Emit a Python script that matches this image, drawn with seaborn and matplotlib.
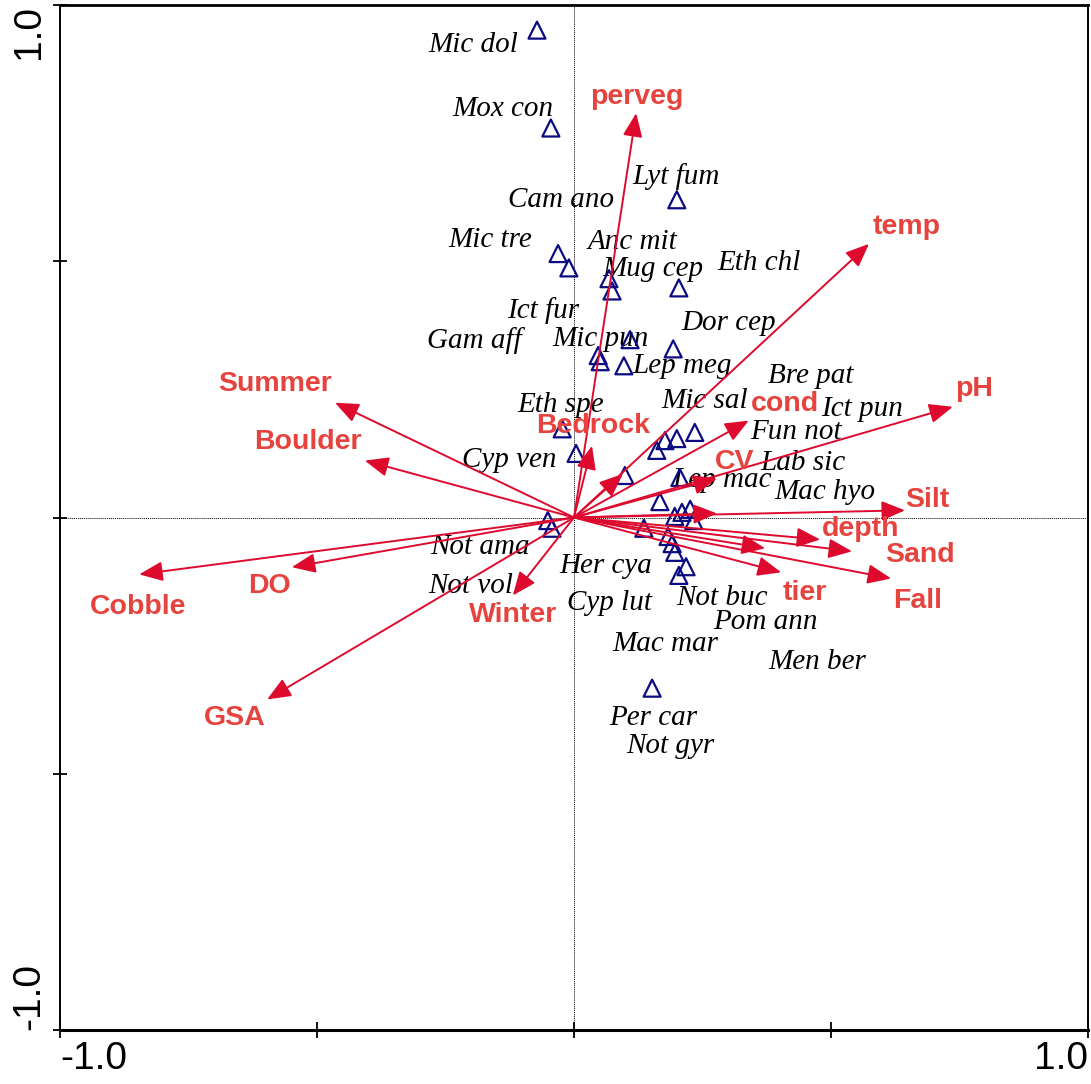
import matplotlib
matplotlib.use("Agg")
import matplotlib.pyplot as plt
import seaborn as sns
import pandas as pd

# ---- species scores (triangles) ----
species_x = [-0.072, -0.045, 0.200, -0.031, -0.010, 0.068, 0.074, 0.204, 0.109, 0.047,
             0.051, 0.097, 0.193, -0.023, 0.004, 0.161, 0.177, 0.200, 0.235, 0.099,
             0.206, 0.167, -0.051, -0.043, 0.136, 0.196, 0.210, 0.226, 0.233, 0.183,
             0.191, 0.196, 0.218, 0.204, 0.152]
species_y = [0.951, 0.760, 0.620, 0.515, 0.487, 0.466, 0.442, 0.448, 0.347, 0.316,
             0.304, 0.296, 0.329, 0.173, 0.125, 0.131, 0.150, 0.154, 0.166, 0.082,
             0.078, 0.031, -0.006, -0.021, -0.021, 0.002, 0.010, 0.016, -0.006, -0.037,
             -0.051, -0.068, -0.096, -0.113, -0.333]

# ---- species labels ----
species_names = ["Mic dol", "Mox con", "Lyt fum", "Cam ano", "Mic tre", "Anc mit", "Mug cep",
                 "Eth chl", "Ict fur", "Dor cep", "Gam aff", "Mic pun", "Lep meg", "Bre pat",
                 "Eth spe", "Mic sal", "Ict pun", "Fun not", "Cyp ven", "Lab sic", "Lep mac",
                 "Mac hyo", "Not ama", "Her cya", "Not vol", "Cyp lut", "Not buc", "Pom ann",
                 "Mac mar", "Men ber", "Per car", "Not gyr"]
species_label_x = [-0.196, -0.138, 0.198, -0.025, -0.163, 0.113, 0.154, 0.360, -0.060, 0.300,
                   -0.193, 0.051, 0.210, 0.461, -0.025, 0.255, 0.560, 0.432, -0.126, 0.446,
                   0.288, 0.488, -0.183, 0.062, -0.200, 0.070, 0.288, 0.372, 0.177, 0.473,
                   0.154, 0.187]
species_label_y = [0.922, 0.797, 0.665, 0.620, 0.542, 0.538, 0.485, 0.497, 0.404, 0.380,
                   0.345, 0.349, 0.296, 0.277, 0.220, 0.228, 0.212, 0.166, 0.113, 0.107,
                   0.074, 0.049, -0.058, -0.094, -0.133, -0.166, -0.158, -0.203, -0.246, -0.281,
                   -0.392, -0.446]

# ---- environmental vectors ----
env_names = ["perveg", "temp", "pH", "cond", "CV", "Bedrock", "", "", "Silt", "depth", "",
             "Sand", "tier", "Fall", "Summer", "Boulder", "Cobble", "DO", "GSA", "Winter"]
env_x = [0.121, 0.574, 0.737, 0.340, 0.278, 0.035, 0.095, 0.278, 0.644, 0.479, 0.372,
         0.541, 0.403, 0.617, -0.465, -0.407, -0.846, -0.549, -0.597, -0.119]
env_y = [0.789, 0.534, 0.216, 0.189, 0.076, 0.140, 0.085, 0.008, 0.014, -0.043, -0.060,
         -0.066, -0.107, -0.119, 0.224, 0.111, -0.111, -0.097, -0.355, -0.152]
env_label_x = [0.123, 0.648, 0.778, 0.411, 0.313, 0.037, 0.0, 0.0, 0.687, 0.558, 0.0,
               0.673, 0.449, 0.669, -0.582, -0.518, -0.848, -0.593, -0.660, -0.119]
env_label_y = [0.821, 0.567, 0.251, 0.222, 0.109, 0.179, 0.0, 0.0, 0.035, -0.023, 0.0,
               -0.074, -0.148, -0.162, 0.261, 0.148, -0.175, -0.133, -0.392, -0.191]

tick_values = [-1.0, -0.5, 0.0, 0.5, 1.0]
tick_labels = ["-1.0", "", "", "", "1.0"]

ARROW_COLOR = "#DE0A2E"
LABEL_COLOR = "#E6433E"
TRI_COLOR = "#0A0A82"

sns.set_style("white")
plt.rcParams["font.family"] = ["Liberation Sans", "DejaVu Sans"]

fig = plt.figure(figsize=(10.91, 10.84), dpi=100)
ax = fig.add_axes([60 / 1091, 54 / 1084, 1028 / 1091, 1025 / 1084])

# dotted axes through origin
ax.axhline(0, color="black", lw=0.7, ls=(0, (1, 1)), zorder=1)
ax.axvline(0, color="black", lw=0.7, ls=(0, (1, 1)), zorder=1)

# species labels
for name, lx, ly in zip(species_names, species_label_x, species_label_y):
    ax.text(lx, ly, name, ha="center", va="center", fontsize=21,
            family=["Liberation Serif", "DejaVu Serif"], style="italic",
            color="black", zorder=2)

# species triangles
sp = pd.DataFrame({"x": species_x, "y": species_y})
sns.scatterplot(data=sp, x="x", y="y", marker="^", s=150, ax=ax, zorder=3,
                color=TRI_COLOR, linewidth=1.6, legend=False)
coll = ax.collections[-1]
coll.set_facecolor("none")
coll.set_edgecolor(TRI_COLOR)
coll.set_linewidth(1.6)

# arrows
for ex, ey in zip(env_x, env_y):
    ax.annotate("", xy=(ex, ey), xytext=(0, 0),
                arrowprops=dict(arrowstyle="-|>,head_length=0.6,head_width=0.25",
                                mutation_scale=24, lw=1.4, color=ARROW_COLOR,
                                shrinkA=0, shrinkB=0),
                zorder=4)

for name, lx, ly in zip(env_names, env_label_x, env_label_y):
    if name:
        ax.text(lx, ly, name, ha="center", va="center", fontsize=20.5,
                fontweight="bold", color=LABEL_COLOR, zorder=5)

ax.set_xlim(-1, 1)
ax.set_ylim(-1, 1)
ax.set_xlabel("")
ax.set_ylabel("")

ax.set_xticks(tick_values)
ax.set_xticklabels(tick_labels, fontsize=28)
ax.set_yticks(tick_values)
ax.set_yticklabels(tick_labels, fontsize=28, rotation=90, va="center")

xl = ax.get_xticklabels()
xl[0].set_ha("left")
xl[-1].set_ha("right")
yl = ax.get_yticklabels()
yl[0].set_va("bottom")
yl[-1].set_va("top")

ax.tick_params(axis="x", direction="inout", length=12, width=1.3, pad=2,
               bottom=True, top=False, colors="black")
ax.tick_params(axis="y", direction="inout", length=10, width=1.3, pad=4,
               left=True, right=False, colors="black")

for side, lw in [("top", 2.0), ("bottom", 2.2), ("left", 1.4), ("right", 1.4)]:
    ax.spines[side].set_visible(True)
    ax.spines[side].set_linewidth(lw)
    ax.spines[side].set_color("black")

fig.savefig("out.png", dpi=100)
